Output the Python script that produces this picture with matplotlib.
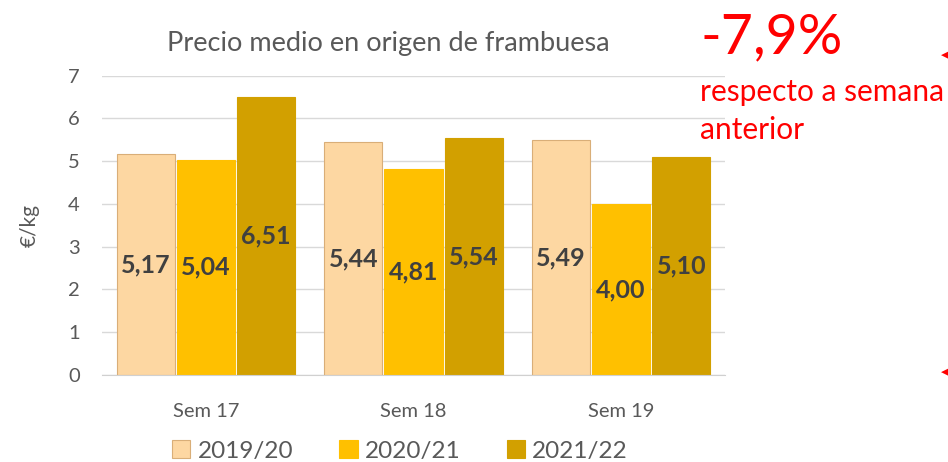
import matplotlib
matplotlib.use("Agg")
import matplotlib.pyplot as plt
import numpy as np

categories = ["Sem 17", "Sem 18", "Sem 19"]
series_names = ["2019/20", "2020/21", "2021/22"]
s2019 = [5.17, 5.44, 5.49]
s2020 = [5.04, 4.81, 4.00]
s2021 = [6.51, 5.54, 5.10]
yticks = [0, 1, 2, 3, 4, 5, 6, 7]

plt.rcParams['font.family'] = ['Lato', 'DejaVu Sans']

fig = plt.figure(figsize=(9.48, 4.62), dpi=100)
ax = fig.add_axes([102/948, (462-375)/462, (725-102)/948, (375-75.7)/462])

colors = ["#FDD7A2", "#FFC000", "#D2A000"]
edges = ["#D9AE78", "#FFC000", "#D2A000"]
x = np.arange(len(categories))
w = 0.28
offs = [-0.29, 0.0, 0.29]
for vals, name, c, e, o in zip([s2019, s2020, s2021], series_names, colors, edges, offs):
    bars = ax.bar(x + o, vals, width=w, color=c, edgecolor=e, linewidth=0.8, label=name, zorder=2)
    for b, v in zip(bars, vals):
        ax.text(b.get_x() + b.get_width()/2, v/2, f"{v:.2f}".replace(".", ","),
                ha="center", va="center", fontsize=18, fontweight="bold", color="#404040", zorder=3)

ax.set_xlim(-0.5, 2.5)
ax.set_ylim(0, 7)
ax.set_yticks(yticks)
ax.set_xticks(x)
ax.set_xticklabels(categories)
ax.grid(axis="y", color="#D9D9D9", linewidth=1, zorder=0)
ax.set_axisbelow(True)
for s in ["top", "right", "left"]:
    ax.spines[s].set_visible(False)
ax.spines["bottom"].set_color("#D0D0D0")
ax.tick_params(axis="both", length=0, labelsize=14.5, colors="#595959")
ax.tick_params(axis="y", pad=16)
ax.tick_params(axis="x", pad=20)
ax.set_ylabel("€/kg", fontsize=15, color="#595959", labelpad=20)

ax.set_title("Precio medio en origen de frambuesa", fontsize=19.5, color="#595959", pad=18, x=0.459)

leg = fig.legend(loc="center", bbox_to_anchor=(400/948, 1 - 451/462), ncol=3, frameon=False,
                 fontsize=17.5, handlelength=0.75, handleheight=0.75, handletextpad=0.3,
                 columnspacing=1.9, labelcolor="#595959")

fig.text(700/948, 1 - 38/462, "-7,9%", color="#FF0000", fontsize=40, ha="left", va="center")
fig.text(700/948, 1 - 92/462, "respecto a semana", color="#FF0000", fontsize=21.5, ha="left", va="center")
fig.text(700/948, 1 - 130/462, "anterior", color="#FF0000", fontsize=21.5, ha="left", va="center")
fig.text(941/948, 1 - 55/462, "◀", color="#FF0000", fontsize=8, ha="left", va="center", family="DejaVu Sans")
fig.text(941/948, 1 - 372/462, "◀", color="#FF0000", fontsize=8, ha="left", va="center", family="DejaVu Sans")

fig.savefig("out.png", dpi=100)
